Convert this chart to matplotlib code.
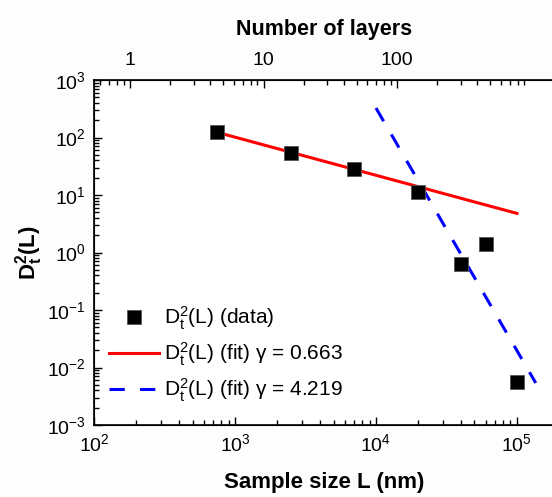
import numpy as np
import matplotlib
matplotlib.use("Agg")
import matplotlib.pyplot as plt
from matplotlib.ticker import LogLocator, FixedLocator, FixedFormatter, NullFormatter

plt.rcParams['font.family'] = ['Liberation Sans', 'DejaVu Sans']
plt.rcParams['mathtext.fontset'] = 'custom'
plt.rcParams['mathtext.rm'] = 'Liberation Sans'
plt.rcParams['mathtext.it'] = 'Liberation Sans:italic'
plt.rcParams['mathtext.bf'] = 'Liberation Sans:bold'
plt.rcParams['axes.unicode_minus'] = False

# measured D_t^2 vs sample size
sample_size = [750, 2500, 7000, 20000, 40000, 60000, 100000]
dt2 = [125, 53, 28, 11.3, 0.63, 1.4, 0.0056]

# power-law fits D_t^2 = A * L^(-gamma)
gamma_small = 0.663
logA_small = 3.995
range_small = [750, 100000]

gamma_large = 4.219
logA_large = 19.389
range_large = [10000, 136000]

layer_ticks = [1, 10, 100]

fig = plt.figure(figsize=(5.52, 4.97), dpi=100)
ax = fig.add_axes([94 / 552, 72 / 497, 461 / 552, 345 / 497])

ax.plot(sample_size, dt2, 's', color='black', markersize=10,
        markeredgecolor='#555555', markeredgewidth=0.6,
        label=r'$\mathregular{D_t^2(L)}$ (data)', zorder=3)

L1 = np.array(range_small, dtype=float)
ax.plot(L1, 10 ** logA_small * L1 ** (-gamma_small), '-', color='#ff0000', lw=2.2,
        label=r'$\mathregular{D_t^2(L)}$ (fit) γ = %.3f' % gamma_small, zorder=2)

L2 = np.array(range_large, dtype=float)
ax.plot(L2, 10 ** logA_large * L2 ** (-gamma_large), '--', color='#0000ff', lw=2.2,
        dashes=(5, 5), label=r'$\mathregular{D_t^2(L)}$ (fit) γ = %.3f' % gamma_large, zorder=2)

ax.set_xscale('log')
ax.set_yscale('log')
ax.set_xlim(1e2, 10 ** 5.27)
ax.set_ylim(1e-3, 1e3)
ax.yaxis.set_major_locator(LogLocator(base=10, numticks=10))
ax.yaxis.set_minor_locator(LogLocator(base=10, subs=np.arange(2, 10), numticks=20))
ax.yaxis.set_minor_formatter(NullFormatter())
ax.xaxis.set_minor_locator(LogLocator(base=10, subs=np.arange(2, 10), numticks=20))
ax.xaxis.set_minor_formatter(NullFormatter())

ax.tick_params(which='both', direction='in', labelsize=14, width=1.0)
ax.tick_params(which='major', length=6, pad=6)
ax.tick_params(which='minor', length=3.5)
ax.tick_params(axis='y', which='both', right=False)
for s in ax.spines.values():
    s.set_linewidth(1.2)

ax.set_xlabel('Sample size L (nm)', fontsize=16, fontweight='bold', labelpad=12)
ax.set_ylabel(r'$\mathbf{D_t^2(L)}$', fontsize=16, labelpad=1)

# number of layers on the top axis
top = ax.twiny()
top.set_xscale('log')
top.set_xlim(10 ** -0.27, 10 ** 3.183)
top.xaxis.set_major_locator(FixedLocator(layer_ticks))
top.xaxis.set_major_formatter(FixedFormatter([str(v) for v in layer_ticks]))
top.xaxis.set_minor_locator(LogLocator(base=10, subs=np.arange(2, 10), numticks=20))
top.xaxis.set_minor_formatter(NullFormatter())
top.tick_params(which='both', direction='in', labelsize=14, width=1.0)
top.tick_params(which='major', length=6, pad=8)
top.tick_params(which='minor', length=3.5)
top.set_xlabel('Number of layers', fontsize=15.5, fontweight='bold', labelpad=12)

ax.legend(loc='lower left', bbox_to_anchor=(0.0, 0.02), frameon=False,
          fontsize=15, handlelength=2.4, handletextpad=0.25,
          labelspacing=0.4, borderaxespad=0.3)

fig.savefig('out.png', dpi=100, facecolor='#fdfdfd')
